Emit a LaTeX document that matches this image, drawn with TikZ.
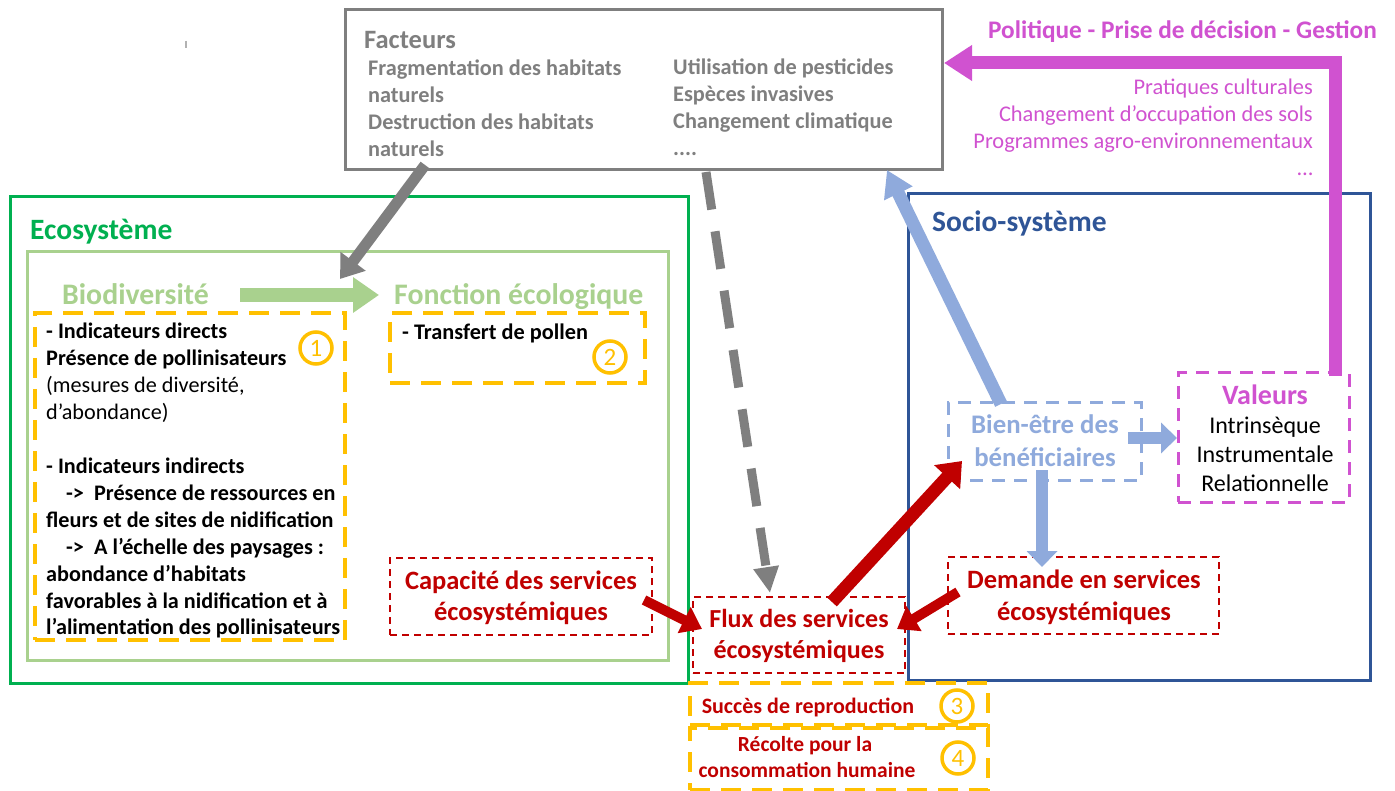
\documentclass[tikz,border=0pt]{standalone}
\usepackage{fontspec}
\setmainfont{Carlito}
\usetikzlibrary{arrows.meta}
\definecolor{cgray}{RGB}{127,127,127}
\definecolor{cgreen}{RGB}{0,176,80}
\definecolor{clgreen}{RGB}{169,209,142}
\definecolor{cblue}{RGB}{47,85,151}
\definecolor{clblue}{RGB}{143,170,220}
\definecolor{cred}{RGB}{192,0,0}
\definecolor{corange}{RGB}{255,192,0}
\definecolor{cmag}{RGB}{208,82,208}
\tikzset{
  box/.style={draw, inner sep=0pt, outer sep=0pt, anchor=north west},
  obox/.style={box, draw=corange, line width=3.5pt, dash pattern=on 20pt off 11pt},
  rbox/.style={box, draw=cred, line width=2pt, dash pattern=on 7pt off 5pt},
  lw/.style={anchor=base west, inner sep=0pt},
  lc/.style={anchor=base, inner sep=0pt},
  le/.style={anchor=base east, inner sep=0pt},
  fs/.style={node font=\fontsize{#1}{#1}\selectfont},
  num/.style={circle, draw=corange, line width=3.5pt, minimum size=32pt, inner sep=0pt, text=corange, node font=\fontsize{25}{25}\selectfont},
}
\begin{document}
\begin{tikzpicture}[x=1pt,y=-1pt]
\useasboundingbox (0,0) rectangle (1395,791);
\fill[white] (0,0) rectangle (1395,791);
\draw[cgray!60, line width=1.5pt] (186,41) -- (186,48);

% boxes
\node[box, draw=cgray, line width=3pt, minimum width=597pt, minimum height=160pt] (fact) at (345,10) {};
\node[box, draw=cgreen, line width=3pt, minimum width=678pt, minimum height=486pt] (eco) at (10,197) {};
\node[box, draw=clgreen, line width=3pt, minimum width=641pt, minimum height=408pt] (bio) at (27,252) {};
\node[box, draw=cblue, line width=3pt, minimum width=462pt, minimum height=486pt] (socio) at (908,194) {};
\node[obox, minimum width=310pt, minimum height=327pt] (b1) at (35,313) {};
\node[obox, minimum width=255pt, minimum height=70pt] (b2) at (390,313) {};
\node[obox, minimum width=298pt, minimum height=42pt] (b3) at (690,683) {};
\node[obox, minimum width=298pt, minimum height=62pt] (b4) at (690,728) {};
\node[rbox, minimum width=262pt, minimum height=77pt] (cap) at (390,558) {};
\node[rbox, minimum width=212pt, minimum height=76pt] (flux) at (693,597) {};
\node[rbox, minimum width=271pt, minimum height=77pt] (dem) at (948,557) {};
\node[box, draw=clblue, line width=3pt, dash pattern=on 13pt off 9pt, minimum width=193pt, minimum height=77pt] (bien) at (948,403) {};
\node[box, draw=cmag, line width=3pt, dash pattern=on 13pt off 9pt, minimum width=171pt, minimum height=129pt] (val) at (1178,373) {};

% Facteurs text
\node[lw, fs=26.5, text=cgray, font=\bfseries] (ft) at (364,49) {Facteurs};
\foreach \t [count=\i] in {Fragmentation des habitats, naturels, Destruction des habitats, naturels}
  \node[lw, fs=22.3, text=cgray, font=\bfseries] (fa\i) at (368,76+27*\i-27) {\t};
\foreach \t [count=\i] in {Utilisation de pesticides, Espèces invasives, Changement climatique}
  \node[lw, fs=22.3, text=cgray, font=\bfseries] (fb\i) at (673,75+27*\i-27) {\t};
\node[lw, fs=22.3, text=cgray, font=\bfseries] (fb4) at (673,156) {....};

% Politique
\node[le, fs=25.3, text=cmag, font=\bfseries] (pol) at (1377,39) {Politique - Prise de décision - Gestion};
\foreach \t [count=\i] in {Pratiques culturales, Changement d’occupation des sols, Programmes agro-environnementaux}
  \node[le, fs=22.4, text=cmag] (pm\i) at (1313,95+27*\i-27) {\t};
\node[le, fs=22.4, text=cmag] (pm4) at (1313,176) {…};

% titles
\node[lw, fs=29.5, text=cgreen, font=\bfseries] (ecot) at (30,240) {Ecosystème};
\node[lw, fs=29.5, text=cblue, font=\bfseries] (sociot) at (932,232) {Socio-système};
\node[lw, fs=29.8, text=clgreen, font=\bfseries] (biot) at (62,305) {Biodiversité};
\node[lw, fs=29.8, text=clgreen, font=\bfseries] (fonct) at (394,305) {Fonction écologique};

% box 1 text
\foreach \t/\k [count=\i] in {{- Indicateurs directs}/b, {Présence de pollinisateurs}/b, {(mesures de diversité,}/n, {d’abondance)}/n, {}/n, {- Indicateurs indirects}/b, {\hspace*{20pt}->\ \ Présence de ressources en}/b, {fleurs et de sites de nidification}/b, {\hspace*{20pt}->\ \ A l’échelle des paysages :}/b, {abondance d’habitats}/b, {favorables à la nidification et à}/b, {l’alimentation des pollinisateurs}/b}
  \node[lw, fs=22.2, font=\if\k b\bfseries\fi] (ba\i) at (46,339+26.9*\i-26.9) {\t};
\node[num] (n1) at (316,348) {1};
\node[lw, fs=22.3, font=\bfseries] (tp) at (402,340) {- Transfert de pollen};
\node[num] (n2) at (610,357) {2};

% red boxes text
\node[lc, fs=26.5, text=cred, font=\bfseries] (cap1) at (521,589) {Capacité des services};
\node[lc, fs=26.5, text=cred, font=\bfseries] (cap2) at (521,620) {écosystémiques};
\node[lc, fs=26, text=cred, font=\bfseries] (flux1) at (799,627) {Flux des services};
\node[lc, fs=26, text=cred, font=\bfseries] (flux2) at (799,658) {écosystémiques};
\node[lc, fs=26.5, text=cred, font=\bfseries] (dem1) at (1084,588) {Demande en services};
\node[lc, fs=26.5, text=cred, font=\bfseries] (dem2) at (1084,620) {écosystémiques};
\node[lc, fs=22, text=cred, font=\bfseries] (suc) at (808,713) {Succès de reproduction};
\node[lc, fs=21.5, text=cred, font=\bfseries] (rec1) at (805,751) {Récolte pour la};
\node[lc, fs=21.5, text=cred, font=\bfseries] (rec2) at (807,777) {consommation humaine};
\node[num] (n3) at (957,706) {3};
\node[num] (n4) at (958,758) {4};

% socio texts
\node[lc, fs=26.8, text=clblue, font=\bfseries] (bien1) at (1045,433) {Bien-être des};
\node[lc, fs=26.8, text=clblue, font=\bfseries] (bien2) at (1045,466) {bénéficiaires};
\node[lc, fs=28, text=cmag, font=\bfseries] (valt) at (1265,405) {Valeurs};
\node[lc, fs=24] (v1) at (1265,434) {Intrinsèque};
\node[lc, fs=24] (v2) at (1265,462) {Instrumentale};
\node[lc, fs=24] (v3) at (1265,491) {Relationnelle};

% arrow end points
\coordinate (gA) at (425,165);
\coordinate (gB) at (340,279);
\coordinate (dA) at (706,172);
\coordinate (dB) at (770,593);
\coordinate (grA) at (240,295);
\coordinate (grB) at (379,295);
\coordinate (cA) at (644,600);
\coordinate (cB) at (702,629);
\coordinate (fA) at (832,602);
\coordinate (fB) at (962,461);
\coordinate (eA) at (958,592);
\coordinate (eB) at (897,629);
\coordinate (bA) at (1001,404);
\coordinate (bB) at (887,170);
\coordinate (vA) at (1128,438);
\coordinate (vB) at (1177,438);
\coordinate (sA) at (1042,470);
\coordinate (sB) at (1042,567);
\coordinate (mA) at (1335,376);
\coordinate (mC) at (1335,63);
\coordinate (mB) at (944,63);

% arrows
\draw[cgray, line width=11pt, -{Triangle[length=22pt,width=30pt]}] (gA) -- (gB);
\draw[cgray, line width=9pt, dash pattern=on 38pt off 22pt, -{Triangle[length=26pt,width=24pt]}] (dA) -- (dB);
\draw[clgreen, line width=14pt, -{Triangle[length=26pt,width=34pt]}] (grA) -- (grB);
\draw[cred, line width=10pt, -{Triangle[length=20pt,width=28pt]}] (cA) -- (cB);
\draw[cred, line width=13pt, -{Triangle[length=22pt,width=34pt]}] (fA) -- (fB);
\draw[cred, line width=10pt, -{Triangle[length=20pt,width=28pt]}] (eA) -- (eB);
\draw[clblue, line width=13pt, -{Triangle[length=26pt,width=30pt]}] (bA) -- (bB);
\draw[clblue, line width=12pt, -{Triangle[length=16pt,width=30pt]}] (vA) -- (vB);
\draw[clblue, line width=12pt, -{Triangle[length=16pt,width=30pt]}] (sA) -- (sB);
\draw[cmag, line width=13pt, -{Triangle[length=28pt,width=34pt]}] (mA) -- (mC) -- (mB);
\end{tikzpicture}
\end{document}
